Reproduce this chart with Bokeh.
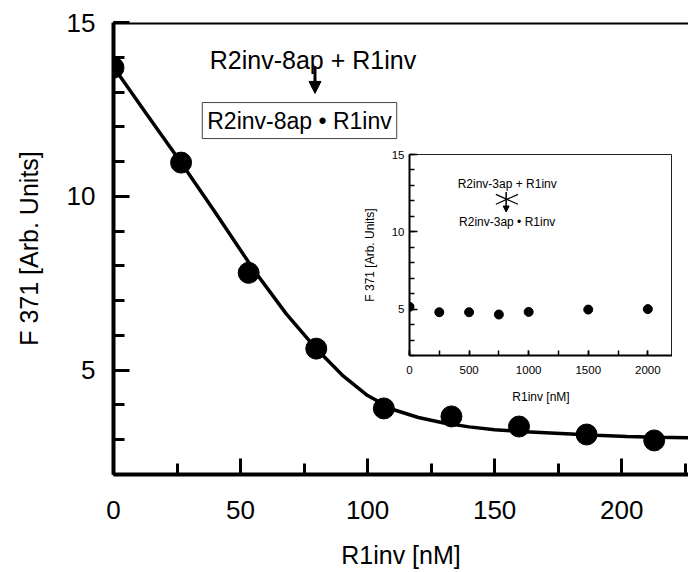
from bokeh.plotting import figure
from bokeh.layouts import column
from bokeh.models import (Range1d, SingleIntervalTicker, Span, Label, Arrow,
                          NormalHead)
from bokeh.embed import file_html
from bokeh.resources import INLINE

# ---------------- data ----------------
# main titration: R1inv [nM] vs F 371
main_x = [0, 26.6, 53.2, 79.8, 106.4, 133, 159.6, 186.2, 212.8]
main_y = [13.70, 10.97, 7.80, 5.62, 3.90, 3.67, 3.38, 3.15, 2.98]

# fitted curve
fit_x = [0, 13, 26.3, 40, 55.8, 68, 80, 90, 100, 110, 120, 130, 140, 150,
         162, 176, 190, 202, 214, 226.5]
fit_y = [13.72, 12.37, 11.00, 9.54, 7.82, 6.62, 5.60, 4.86, 4.27, 3.87,
         3.64, 3.48, 3.37, 3.29, 3.23, 3.18, 3.13, 3.09, 3.07, 3.06]

# inset: R2inv-3ap + R1inv
inset_x = [0, 250, 500, 750, 1000, 1500, 2000]
inset_y = [5.15, 4.80, 4.80, 4.65, 4.82, 4.97, 5.00]

FONT = "Liberation Sans"

# ---------------- main figure ----------------
p = figure(width=688, height=572, output_backend="svg", toolbar_location=None,
           x_range=Range1d(0, 226.3), y_range=Range1d(2, 15),
           min_border_left=113, min_border_right=0, min_border_top=22,
           min_border_bottom=98)
p.outline_line_color = None
p.grid.visible = False
p.background_fill_color = "white"

for ax in (p.xaxis[0], p.yaxis[0]):
    ax.axis_line_width = 4
    ax.axis_line_color = "black"
    ax.major_tick_line_width = 3
    ax.minor_tick_line_width = 3
    ax.major_tick_out = 0
    ax.minor_tick_out = 0
    ax.major_tick_in = 16
    ax.minor_tick_in = 11
    ax.major_label_text_font = FONT
    ax.major_label_text_font_size = "26px"
    ax.major_label_text_color = "black"
    ax.axis_label_text_font = FONT
    ax.axis_label_text_font_size = "25px"
    ax.axis_label_text_font_style = "normal"
    ax.axis_label_text_color = "black"

p.xaxis[0].ticker = SingleIntervalTicker(interval=50, num_minor_ticks=2)
p.yaxis[0].ticker = SingleIntervalTicker(interval=5, num_minor_ticks=5)
p.xaxis[0].axis_label = "R1inv [nM]"
p.yaxis[0].axis_label = "F 371 [Arb. Units]"
p.xaxis[0].major_label_standoff = 26
p.xaxis[0].axis_label_standoff = 19
p.yaxis[0].major_label_standoff = 18
p.yaxis[0].axis_label_standoff = 21

p.add_layout(Span(location=15, dimension="width", line_color="black",
                  line_width=4))

p.line(fit_x, fit_y, line_color="black", line_width=3.5)
p.scatter(main_x, main_y, size=21, color="black")

p.add_layout(Label(x=78.5, y=13.91, text="R2inv-8ap + R1inv",
                   text_align="center", text_baseline="alphabetic",
                   text_font=FONT, text_font_size="25px", text_color="black"))
p.add_layout(Arrow(x_start=79.3, y_start=13.74, x_end=79.3, y_end=12.96,
                   line_width=3, line_color="black",
                   end=NormalHead(size=12, fill_color="black",
                                  line_color="black")))
p.add_layout(Label(x=73.2, y=12.18, text="R2inv-8ap \u2022 R1inv",
                   text_align="center", text_baseline="middle",
                   text_font=FONT, text_font_size="23px", text_color="black",
                   border_line_color="#444444", border_line_width=1,
                   background_fill_color="white", padding=5))

# ---------------- inset figure ----------------
# (its left/right borders are aligned with the main figure by the column)
q = figure(width=376, height=263, output_backend="svg", toolbar_location=None,
           x_range=Range1d(0, 2207), y_range=Range1d(2, 15),
           min_border_left=113, min_border_right=0, min_border_top=6,
           min_border_bottom=56)
q.grid.visible = False
q.background_fill_alpha = 0
q.border_fill_alpha = 0
q.outline_line_color = "#222222"
q.outline_line_width = 1

for ax in (q.xaxis[0], q.yaxis[0]):
    ax.axis_line_width = 2
    ax.axis_line_color = "black"
    ax.major_tick_line_width = 1.5
    ax.minor_tick_line_width = 1.5
    ax.major_tick_out = 0
    ax.minor_tick_out = 0
    ax.major_label_text_font = FONT
    ax.major_label_text_font_size = "11.5px"
    ax.major_label_text_color = "black"
    ax.axis_label_text_font = FONT
    ax.axis_label_text_font_size = "12px"
    ax.axis_label_text_font_style = "normal"
    ax.axis_label_text_color = "black"

q.xaxis[0].ticker = SingleIntervalTicker(interval=500, num_minor_ticks=2)
q.xaxis[0].major_tick_in = 5
q.xaxis[0].minor_tick_in = 5
q.yaxis[0].ticker = SingleIntervalTicker(interval=5, num_minor_ticks=5)
q.yaxis[0].major_tick_in = 8
q.yaxis[0].minor_tick_in = 5
q.xaxis[0].axis_label = "R1inv [nM]"
q.yaxis[0].axis_label = "F 371 [Arb. Units]"
q.xaxis[0].major_label_standoff = 10
q.xaxis[0].axis_label_standoff = 13
q.yaxis[0].major_label_standoff = 5
q.yaxis[0].axis_label_standoff = 12

q.scatter(inset_x, inset_y, size=9, color="black")

q.add_layout(Label(x=820, y=13.11, text="R2inv-3ap + R1inv",
                   text_align="center", text_baseline="middle",
                   text_font=FONT, text_font_size="12px", text_color="black"))
q.add_layout(Label(x=820, y=10.64, text="R2inv-3ap \u2022 R1inv",
                   text_align="center", text_baseline="middle",
                   text_font=FONT, text_font_size="12px", text_color="black"))
q.add_layout(Arrow(x_start=811, y_start=12.57, x_end=811, y_end=11.28,
                   line_width=1.5, line_color="black",
                   end=NormalHead(size=6, fill_color="black",
                                  line_color="black")))
q.add_layout(Arrow(x_start=725, y_start=12.42, x_end=910, y_end=11.78,
                   line_width=1.2, line_color="black", end=None))
q.add_layout(Arrow(x_start=725, y_start=11.78, x_end=910, y_end=12.42,
                   line_width=1.2, line_color="black", end=None))

q.styles = {"position": "absolute", "left": "296px", "top": "148px"}

layout = column(p, q)
layout.styles = {"position": "relative"}

open("out.html", "w").write(file_html(layout, INLINE))
